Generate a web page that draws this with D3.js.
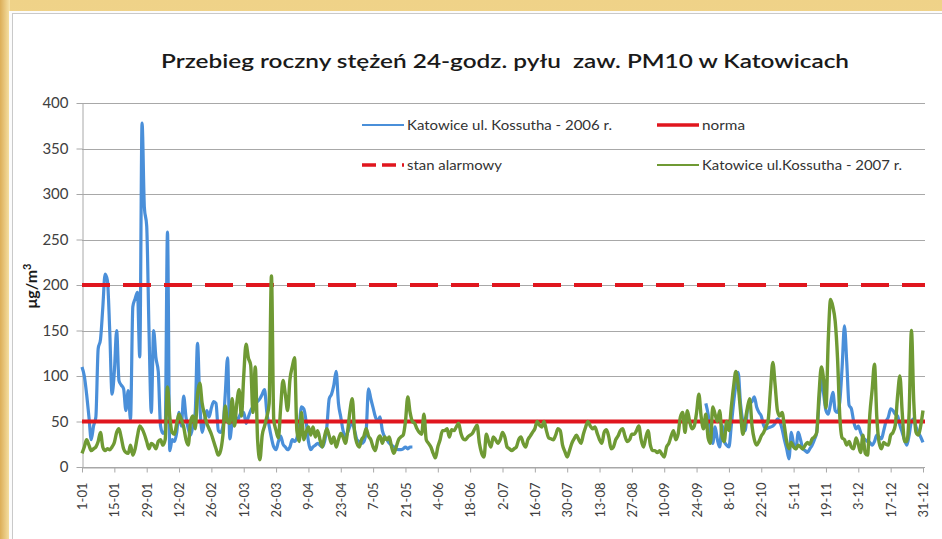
<!DOCTYPE html>
<html><head><meta charset="utf-8">
<script src="https://cdn.jsdelivr.net/npm/d3@7"></script>
<style>html,body{margin:0;padding:0;background:#f1d78f;overflow:hidden}</style>
</head><body><svg id="c" width="942" height="539"></svg>
<script>
// ---------- DATA ----------
const titleText = "Przebieg roczny stężeń 24-godz. pyłu  zaw. PM10 w Katowicach";
const yTicks = [0, 50, 100, 150, 200, 250, 300, 350, 400];
const xTickLabels = ["1-01","15-01","29-01","12-02","26-02","12-03","26-03","9-04","23-04","7-05","21-05","4-06","18-06","2-07","16-07","30-07","13-08","27-08","10-09","24-09","8-10","22-10","5-11","19-11","3-12","17-12","31-12"];
const normaLevel = 50;
const alarmLevel = 200;
const seriesNames = ["Katowice ul. Kossutha - 2006 r.", "norma", "stan alarmowy", "Katowice ul.Kossutha - 2007 r."];

// 2007 daily values (1-01 .. 31-12)
const green2007 = [
15,22,30,24,18,20,22,28,38,22,
18,20,19,22,27,38,42,32,20,16,
15,24,13,20,34,45,42,36,28,20,
26,24,20,28,30,24,30,88,55,38,
36,48,58,52,44,30,24,50,56,42,
80,92,70,58,48,42,36,28,20,13,
18,35,67,50,48,75,45,70,85,56,
100,135,120,112,60,110,30,8,35,45,
55,70,210,52,40,32,66,95,80,62,
96,110,120,40,28,60,30,38,44,35,
44,33,40,30,22,34,42,34,26,33,
22,30,37,33,26,40,62,75,38,26,
22,30,34,42,34,30,22,18,30,34,
26,33,30,33,22,15,22,30,33,35,
50,77,60,50,48,42,38,36,58,30,
26,22,15,10,22,30,40,40,42,33,
41,40,44,48,37,31,30,33,35,37,
42,46,26,15,11,36,28,22,33,30,
26,30,38,33,22,20,18,20,22,30,
33,26,22,30,34,38,42,50,46,44,
50,40,32,31,30,35,42,40,24,17,
11,18,26,31,35,30,26,36,44,50,
45,42,44,37,30,26,38,41,33,20,
22,30,34,40,42,34,28,30,36,36,
40,45,30,22,32,40,24,18,18,16,
18,14,11,22,26,34,40,30,36,55,
60,38,62,50,42,45,60,80,55,42,
58,32,26,66,58,50,62,34,28,50,
40,65,88,105,90,62,36,50,65,75,
45,30,24,28,34,38,44,52,85,115,
90,62,56,60,45,28,20,27,22,20,
24,22,20,24,27,25,31,33,38,80,
110,96,65,140,184,176,160,120,55,32,
30,24,28,22,20,32,25,16,35,15,
13,58,85,113,55,27,20,27,25,24,
35,38,46,78,100,60,28,28,60,150,
72,38,35,45,62
];

// 2006 values: 1-01 .. 24-05
const blue2006Spring = [
110,100,80,55,30,45,55,130,140,175,
212,205,150,80,105,150,95,90,86,62,
84,52,176,185,192,121,378,285,265,150,
60,150,120,105,45,37,40,258,18,30,
28,38,60,45,78,55,42,35,45,60,
136,70,38,50,62,55,65,72,70,40,
38,45,80,120,31,50,60,50,55,60,
60,48,55,62,66,70,72,75,80,85,
60,45,32,22,19,28,34,25,22,19,
22,30,28,32,45,66,64,50,28,19,
22,24,26,24,22,28,45,75,80,90,
105,70,55,40,33,38,45,48,40,30,
28,26,28,40,86,75,65,55,50,55,
40,33,30,26,24,22,20,19,19,20,
22,20,22,22
];
// 2006 values: 28-09 .. 31-12
const blue2006Autumn = [
70,58,40,26,44,30,22,46,28,24,
22,45,70,90,104,70,50,40,62,70,
72,77,66,60,56,46,42,43,44,45,
48,53,50,42,30,20,9,38,25,20,
38,30,20,18,16,20,24,30,38,70,
96,80,62,58,70,82,62,60,72,110,
155,115,68,64,50,42,45,38,32,30,
28,27,24,28,35,33,31,40,50,55,
64,62,58,56,46,38,30,24,35,50,
53,44,38,33,27
];

// ---------- SETUP ----------
const days = d3.timeDay.range(new Date(2006,0,1), new Date(2007,0,1)).map(d3.timeFormat("%-d-%m"));
const gapLen = days.length - blue2006Spring.length - blue2006Autumn.length;
const blue2006 = [...blue2006Spring, ...Array(gapLen).fill(null), ...blue2006Autumn];

const C = { blue: "#4a8fd9", green: "#6f9a34", red: "#e0161e", grid: "#a8a8a8", text: "#404040" };
const FONT = "Lato, 'Open Sans', 'Liberation Sans', sans-serif";

const svg = d3.select("#c");
const defs = svg.append("defs");
const gL = defs.append("linearGradient").attr("id","gL").attr("x1","0").attr("x2","1").attr("y1","0").attr("y2","0");
gL.append("stop").attr("offset","0").attr("stop-color","#dcae58");
gL.append("stop").attr("offset","1").attr("stop-color","#f7e3a8");
const gT = defs.append("linearGradient").attr("id","gT").attr("x1","0").attr("x2","0").attr("y1","0").attr("y2","1");
gT.append("stop").attr("offset","0").attr("stop-color","#efd288");
gT.append("stop").attr("offset","1").attr("stop-color","#f6e2a6");

svg.append("rect").attr("width",942).attr("height",539).attr("fill","url(#gT)");
svg.append("rect").attr("x",0).attr("y",0).attr("width",10).attr("height",539).attr("fill","url(#gL)");
svg.append("rect").attr("x",9).attr("y",11).attr("width",940).attr("height",540).attr("fill","#fbfbfb");
svg.append("rect").attr("x",12.5).attr("y",13.5).attr("width",940).attr("height",540).attr("fill","#ffffff").attr("stroke","#c9c9c9");

const x = d3.scalePoint().domain(days).range([82, 923]);
const y = d3.scaleLinear().domain([0, 400]).range([467, 103]);
const xEnd = 925;

// gridlines
svg.append("g").selectAll("line").data(yTicks).join("line")
  .attr("x1", 82).attr("x2", xEnd)
  .attr("y1", d => Math.round(y(d)) + 0.5).attr("y2", d => Math.round(y(d)) + 0.5)
  .attr("stroke", C.grid).attr("stroke-width", 1);

// y axis
const yAxis = svg.append("g").attr("transform", "translate(82.5,0)")
  .call(d3.axisLeft(y).tickValues(yTicks).tickSize(6).tickSizeOuter(0).tickPadding(8));
yAxis.select(".domain").attr("stroke", C.grid);
yAxis.selectAll(".tick line").attr("stroke", C.grid);
yAxis.selectAll("text").attr("font-family", FONT).attr("font-size", 15).attr("fill", C.text);

// x axis
const xAxis = svg.append("g").attr("transform", "translate(0,467.5)")
  .call(d3.axisBottom(x).tickValues(xTickLabels).tickSize(5).tickSizeOuter(0));
xAxis.select(".domain").attr("stroke", C.grid);
xAxis.selectAll(".tick line").attr("stroke", C.grid);
xAxis.selectAll("text")
  .attr("transform", "rotate(-90)")
  .attr("x", -15).attr("y", 0).attr("dy", "0.35em")
  .style("text-anchor", "end")
  .attr("font-family", FONT).attr("font-size", 13).attr("fill", C.text);

// lines
const line = d3.line().defined(d => d.v != null).x(d => x(d.day)).y(d => y(d.v)).curve(d3.curveMonotoneX);
const blueData = days.map((d, i) => ({ day: d, v: blue2006[i] }));
const greenData = days.map((d, i) => ({ day: d, v: green2007[i] }));

svg.append("path").datum(blueData).attr("d", line)
  .attr("fill", "none").attr("stroke", C.blue).attr("stroke-width", 3.2).attr("stroke-linejoin", "round");

svg.append("line").attr("x1", 82).attr("x2", xEnd).attr("y1", y(normaLevel)).attr("y2", y(normaLevel))
  .attr("stroke", C.red).attr("stroke-width", 4);
svg.append("line").attr("x1", 82).attr("x2", xEnd).attr("y1", y(alarmLevel)).attr("y2", y(alarmLevel))
  .attr("stroke", C.red).attr("stroke-width", 4).attr("stroke-dasharray", "28,13");

svg.append("path").datum(greenData).attr("d", line)
  .attr("fill", "none").attr("stroke", C.green).attr("stroke-width", 3.4).attr("stroke-linejoin", "round");

// title
svg.append("text").attr("x", 505).attr("y", 68).attr("text-anchor", "middle")
  .style("white-space", "pre")
  .attr("font-family", FONT).attr("font-weight", 600).attr("font-size", 20).attr("fill", "#1a1a1a")
  .attr("textLength", 688).attr("lengthAdjust", "spacingAndGlyphs")
  .text(titleText);

// y title
const yt = svg.append("text").attr("transform", "translate(37,286) rotate(-90)").attr("text-anchor", "middle")
  .attr("font-family", FONT).attr("font-weight", "bold").attr("font-size", 16).attr("fill", "#1a1a1a");
yt.append("tspan").text("μg/m");
yt.append("tspan").attr("font-size", 11).attr("dy", -6).text("3");

// legend
const legend = [
  { name: seriesNames[0], color: C.blue, w: 2, dash: null, lx: 362, ly: 125, tl: 205 },
  { name: seriesNames[1], color: C.red, w: 3.5, dash: null, lx: 657, ly: 125, tl: 43 },
  { name: seriesNames[2], color: C.red, w: 3.5, dash: "14,6", lx: 362, ly: 165, tl: 95 },
  { name: seriesNames[3], color: C.green, w: 2, dash: null, lx: 657, ly: 165, tl: 200 }
];
const lg = svg.append("g").selectAll("g").data(legend).join("g");
lg.append("line").attr("x1", d => d.lx).attr("x2", d => d.lx + 42).attr("y1", d => d.ly).attr("y2", d => d.ly)
  .attr("stroke", d => d.color).attr("stroke-width", d => d.w).attr("stroke-dasharray", d => d.dash);
lg.append("text").attr("x", d => d.lx + 45).attr("y", d => d.ly).attr("dy", "0.35em")
  .attr("font-family", FONT).attr("font-size", 13).attr("fill", "#333")
  .attr("textLength", d => d.tl).attr("lengthAdjust", "spacingAndGlyphs")
  .text(d => d.name);
</script></body></html>
